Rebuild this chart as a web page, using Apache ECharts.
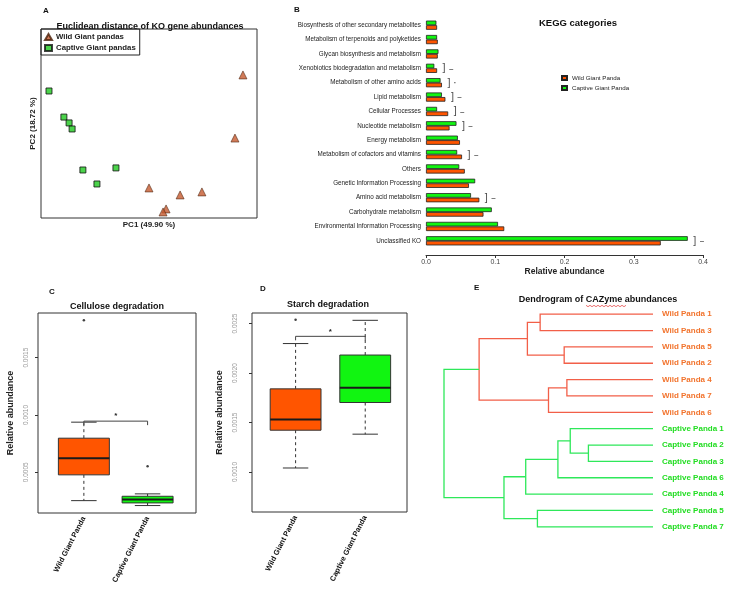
<!DOCTYPE html>
<html><head><meta charset="utf-8">
<script src="https://cdn.jsdelivr.net/npm/echarts@6/dist/echarts.min.js"></script>
<style>html,body{margin:0;padding:0;background:#fff}#c{width:732px;height:594px}</style>
</head><body><div id="c"></div>
<script>
// ---------- Panel A: PCA of KO gene abundances ----------
const pcaWildPC1 = [93.5, 89.8, 50.0, 64.4, 74.5, 57.9, 56.5];
const pcaWildPC2 = [75.7, 42.3, 15.9, 12.2, 13.8, 4.8, 3.2];
const pcaCaptivePC1 = [3.7, 10.6, 13.0, 14.4, 19.4, 25.9, 34.7];
const pcaCaptivePC2 = [67.2, 53.4, 50.3, 47.1, 25.4, 18.0, 26.5];

// ---------- Panel B: KEGG categories ----------
const keggCategories = [
  'Biosynthesis of other secondary metabolites',
  'Metabolism of terpenoids and polyketides',
  'Glycan biosynthesis and metabolism',
  'Xenobiotics biodegradation and metabolism',
  'Metabolism of other amino acids',
  'Lipid metabolism',
  'Cellular Processes',
  'Nucleotide metabolism',
  'Energy metabolism',
  'Metabolism of cofactors and vitamins',
  'Others',
  'Genetic Information Processing',
  'Amino acid metabolism',
  'Carbohydrate metabolism',
  'Environmental Information Processing',
  'Unclassified KO'
];
const keggWild =    [0.016, 0.017, 0.017, 0.016, 0.023, 0.028, 0.032, 0.034, 0.049, 0.052, 0.056, 0.062, 0.077, 0.083, 0.113, 0.339];
const keggCaptive = [0.015, 0.016, 0.018, 0.012, 0.021, 0.023, 0.016, 0.044, 0.046, 0.045, 0.048, 0.071, 0.065, 0.095, 0.104, 0.378];
const keggSig = ['', '', '', '–', '·', '–', '–', '–', '', '–', '', '', '–', '', '', '–'];

// ---------- Panel C / D: box plots ----------
const boxGroups = ['Wild Giant Panda', 'Captive Giant Panda'];
// [min, Q1, median, Q3, max]
const celluloseWild =    [0.000252, 0.000477, 0.000622, 0.000797, 0.000937];
const celluloseCaptive = [0.000209, 0.000232, 0.000261, 0.000290, 0.000311];
const celluloseOutliers = [[1, 0.001826], [2, 0.000552]];
const celluloseTicks = [0.0005, 0.0010, 0.0015];
const celluloseSig = [1, 2, 0.000946];

const starchWild =    [0.00104, 0.001422, 0.00153, 0.00184, 0.002298];
const starchCaptive = [0.001382, 0.001702, 0.00185, 0.002182, 0.002533];
const starchOutliers = [[1, 0.00254]];
const starchTicks = [0.0010, 0.0015, 0.0020, 0.0025];
const starchSig = [1, 2, 0.002371];

// ---------- Panel E: dendrogram of CAZyme abundances ----------
const dendroLeaves = ['Wild Panda 1', 'Wild Panda 3', 'Wild Panda 5', 'Wild Panda 2', 'Wild Panda 4', 'Wild Panda 7', 'Wild Panda 6',
  'Captive Panda 1', 'Captive Panda 2', 'Captive Panda 3', 'Captive Panda 6', 'Captive Panda 4', 'Captive Panda 5', 'Captive Panda 7'];
// hclust-style merges: negative = leaf (1-based), positive = earlier merge row (1-based); third = height
const dendroMerge = [
  [-1, -2, 0.540],
  [-3, -4, 0.425],
  [1, 2, 0.601],
  [-5, -6, 0.412],
  [4, -7, 0.500],
  [3, 5, 0.832],
  [-9, -10, 0.309],
  [-8, 7, 0.396],
  [8, -11, 0.455],
  [9, -12, 0.609],
  [-13, -14, 0.553],
  [10, 11, 0.713],
  [6, 12, 1.0]
];

// ---------- colours ----------
const ORANGE = '#FF5500';
const GREEN = '#11F511';
const FONT = '"Liberation Sans", Arial, sans-serif';

// dendrogram layout
const dPos = [], dWild = [];
const gPos = id => id < 0 ? (-id - 1) : dPos[id - 1];
const gH = id => id < 0 ? 0 : dendroMerge[id - 1][2];
const gWild = id => id < 0 ? dendroLeaves[-id - 1].startsWith('Wild') : dWild[id - 1];
const dendroSegs = dendroMerge.map(([a, b, h], i) => {
  dPos[i] = (gPos(a) + gPos(b)) / 2;
  dWild[i] = gWild(a) && gWild(b);
  return [h, gPos(a), gPos(b), gH(a), gH(b), dWild[i] ? 1 : 0];
});

function boxRender(widthUnits) {
  return function (params, api) {
    const x = api.value(0);
    const c = i => api.coord([x, api.value(i)]);
    const pLo = c(1), pQ1 = c(2), pMed = c(3), pQ3 = c(4), pHi = c(5);
    const w = api.size([widthUnits, 0])[0];
    const cx = pLo[0];
    const fill = params.dataIndex === 0 ? ORANGE : GREEN;
    const ls = { stroke: '#333', lineWidth: 1 };
    return { type: 'group', children: [
      { type: 'line', shape: { x1: cx, y1: pQ3[1], x2: cx, y2: pHi[1] }, style: Object.assign({ lineDash: [3, 3] }, ls) },
      { type: 'line', shape: { x1: cx, y1: pQ1[1], x2: cx, y2: pLo[1] }, style: Object.assign({ lineDash: [3, 3] }, ls) },
      { type: 'line', shape: { x1: cx - w / 4, y1: pHi[1], x2: cx + w / 4, y2: pHi[1] }, style: ls },
      { type: 'line', shape: { x1: cx - w / 4, y1: pLo[1], x2: cx + w / 4, y2: pLo[1] }, style: ls },
      { type: 'rect', shape: { x: cx - w / 2, y: pQ3[1], width: w, height: pQ1[1] - pQ3[1] }, style: { fill: fill, stroke: '#333', lineWidth: 1 } },
      { type: 'line', shape: { x1: cx - w / 2, y1: pMed[1], x2: cx + w / 2, y2: pMed[1] }, style: { stroke: '#1a1a1a', lineWidth: 2 } }
    ]};
  };
}
function sigRender(params, api) {
  const p1 = api.coord([api.value(0), api.value(2)]);
  const p2 = api.coord([api.value(1), api.value(2)]);
  return { type: 'group', children: [
    { type: 'polyline', shape: { points: [[p1[0], p1[1] + 4], p1, p2, [p2[0], p2[1] + 4]] }, style: { stroke: '#444', lineWidth: 1, fill: null } },
    { type: 'text', x: (p1[0] + p2[0]) / 2, y: p1[1] - 1, style: { text: '*', fill: '#222', align: 'center', verticalAlign: 'bottom', font: 'bold 8px ' + FONT } }
  ]};
}
function dendroRender(params, api) {
  const h = api.value(0), ya = api.value(1), yb = api.value(2), ha = api.value(3), hb = api.value(4);
  const col = api.value(5) === 1 ? '#F25F48' : '#2EE85A';
  const pts = [api.coord([ha, ya]), api.coord([h, ya]), api.coord([h, yb]), api.coord([hb, yb])];
  return { type: 'polyline', shape: { points: pts }, style: { stroke: col, lineWidth: 1.3, fill: null } };
}

const hiddenAxis = { axisLine: { show: false }, axisTick: { show: false }, axisLabel: { show: false }, splitLine: { show: false } };

// spell-check style wavy underline under "CAZyme" in the dendrogram title
const wavy = [];
for (let i = 0; i <= 20; i++) wavy.push([586 + i * 2, 305.5 + (i % 2 ? 1.2 : -0.2)]);

const chart = echarts.init(document.getElementById('c'), null, { renderer: 'canvas' });
const option = {
  animation: false,
  backgroundColor: '#fff',
  textStyle: { fontFamily: FONT },
  graphic: [
    { type: 'text', left: 43, top: 7, style: { text: 'A', font: 'bold 8px ' + FONT, fill: '#111' } },
    { type: 'text', x: 150, y: 27, style: { text: 'Euclidean distance of KO gene abundances', font: 'bold 9px ' + FONT, fill: '#111', align: 'center', verticalAlign: 'middle' } },
    { type: 'text', left: 294, top: 6, style: { text: 'B', font: 'bold 8px ' + FONT, fill: '#111' } },
    { type: 'text', x: 578, y: 23, style: { text: 'KEGG categories', font: 'bold 9.5px ' + FONT, fill: '#111', align: 'center', verticalAlign: 'middle' } },
    { type: 'text', left: 49, top: 288, style: { text: 'C', font: 'bold 8px ' + FONT, fill: '#111' } },
    { type: 'text', x: 117, y: 307, style: { text: 'Cellulose degradation', font: 'bold 9px ' + FONT, fill: '#111', align: 'center', verticalAlign: 'middle' } },
    { type: 'text', left: 260, top: 285, style: { text: 'D', font: 'bold 8px ' + FONT, fill: '#111' } },
    { type: 'text', x: 328, y: 305, style: { text: 'Starch degradation', font: 'bold 9px ' + FONT, fill: '#111', align: 'center', verticalAlign: 'middle' } },
    { type: 'text', left: 474, top: 284, style: { text: 'E', font: 'bold 8px ' + FONT, fill: '#111' } },
    { type: 'text', x: 598, y: 300, style: { text: 'Dendrogram of CAZyme abundances', font: 'bold 9px ' + FONT, fill: '#111', align: 'center', verticalAlign: 'middle' } },
    { type: 'polyline', shape: { points: wavy }, style: { stroke: '#E03030', lineWidth: 0.7, fill: null } }
  ],
  legend: [
    { data: [{ name: 'Wild Giant pandas', icon: 'triangle' }, { name: 'Captive Giant pandas', icon: 'rect' }],
      orient: 'vertical', left: 41, top: 29, itemWidth: 7, itemHeight: 6, itemGap: 3,
      padding: [4, 4, 3, 3], borderColor: '#222', borderWidth: 1, selectedMode: false,
      textStyle: { fontSize: 7.8, fontWeight: 'bold', color: '#222', fontFamily: FONT, padding: [0, 0, 0, -1] } },
    { data: [{ name: 'Wild Giant Panda', icon: 'rect' }, { name: 'Captive Giant Panda', icon: 'rect' }],
      orient: 'vertical', left: 556, top: 70, itemWidth: 5, itemHeight: 4, itemGap: 4, selectedMode: false,
      textStyle: { fontSize: 6.2, color: '#222', fontFamily: FONT } }
  ],
  grid: [
    { left: 41, top: 29, width: 216, height: 189, show: true, borderColor: '#333', borderWidth: 1, backgroundColor: 'transparent' },
    { left: 426, top: 18, width: 277, height: 230 },
    { left: 38, top: 313, width: 158, height: 200, show: true, borderColor: '#333', borderWidth: 1, backgroundColor: 'transparent' },
    { left: 252, top: 313, width: 155, height: 199, show: true, borderColor: '#333', borderWidth: 1, backgroundColor: 'transparent' },
    { left: 444, top: 306, width: 209, height: 229 }
  ],
  xAxis: [
    Object.assign({ gridIndex: 0, type: 'value', min: 0, max: 100, name: 'PC1 (49.90 %)', nameLocation: 'middle', nameGap: 3,
      nameTextStyle: { fontSize: 8, fontWeight: 'bold', color: '#222', verticalAlign: 'top' } }, hiddenAxis),
    { gridIndex: 1, type: 'value', min: 0, max: 0.4, interval: 0.1, offset: 7,
      axisLine: { show: true, lineStyle: { color: '#333', width: 1 } }, axisTick: { show: true, length: 3, lineStyle: { color: '#333' } },
      axisLabel: { fontSize: 7, color: '#444', margin: 4, formatter: v => v.toFixed(1) }, splitLine: { show: false },
      name: 'Relative abundance', nameLocation: 'middle', nameGap: 12, nameTextStyle: { fontSize: 8.5, fontWeight: 'bold', color: '#222', verticalAlign: 'top' } },
    { gridIndex: 2, type: 'value', min: 0.28, max: 2.76, axisLine: { show: false }, axisTick: { show: false }, splitLine: { show: false },
      axisLabel: { customValues: [1, 2], formatter: v => boxGroups[Math.round(v) - 1], rotate: 63, margin: 4, fontSize: 7.5, fontWeight: 'bold', color: '#111' } },
    { gridIndex: 3, type: 'value', min: 0.374, max: 2.6, axisLine: { show: false }, axisTick: { show: false }, splitLine: { show: false },
      axisLabel: { customValues: [1, 2], formatter: v => boxGroups[Math.round(v) - 1], rotate: 63, margin: 4, fontSize: 7.5, fontWeight: 'bold', color: '#111' } },
    Object.assign({ gridIndex: 4, type: 'value', min: 0, max: 1, inverse: true }, hiddenAxis)
  ],
  yAxis: [
    Object.assign({ gridIndex: 0, type: 'value', min: 0, max: 100, name: 'PC2 (18.72 %)', nameLocation: 'middle', nameGap: 4,
      nameTextStyle: { fontSize: 8, fontWeight: 'bold', color: '#222' } }, hiddenAxis),
    { gridIndex: 1, type: 'category', data: keggCategories, inverse: true, axisLine: { show: false }, axisTick: { show: false },
      axisLabel: { fontSize: 6.3, color: '#222', margin: 5, interval: 0 } },
    { gridIndex: 2, type: 'value', min: 0.000144, max: 0.00189, axisLine: { show: false }, splitLine: { show: false },
      axisTick: { show: true, customValues: celluloseTicks, length: 3, lineStyle: { color: '#333' } },
      axisLabel: { customValues: celluloseTicks, rotate: 90, margin: 8, fontSize: 6.5, color: '#999', formatter: v => v.toFixed(4) },
      name: 'Relative abundance', nameLocation: 'middle', nameGap: 23, nameTextStyle: { fontSize: 9, fontWeight: 'bold', color: '#222' } },
    { gridIndex: 3, type: 'value', min: 0.000595, max: 0.002607, axisLine: { show: false }, splitLine: { show: false },
      axisTick: { show: true, customValues: starchTicks, length: 3, lineStyle: { color: '#333' } },
      axisLabel: { customValues: starchTicks, rotate: 90, margin: 13, fontSize: 6.5, color: '#999', formatter: v => v.toFixed(4) },
      name: 'Relative abundance', nameLocation: 'middle', nameGap: 28, nameTextStyle: { fontSize: 9, fontWeight: 'bold', color: '#222' } },
    Object.assign({ gridIndex: 4, type: 'value', min: -0.5, max: dendroLeaves.length - 0.5, inverse: true }, hiddenAxis),
    { gridIndex: 4, type: 'category', data: dendroLeaves, inverse: true, position: 'right', axisLine: { show: false }, axisTick: { show: false },
      axisLabel: { interval: 0, margin: 9, fontSize: 8, fontWeight: 'bold', color: (v) => v.startsWith('Wild') ? '#F2742E' : '#22DD22' } }
  ],
  series: [
    { name: 'Wild Giant pandas', type: 'scatter', xAxisIndex: 0, yAxisIndex: 0, symbol: 'triangle', symbolSize: 8,
      itemStyle: { color: '#C65A30', borderColor: '#4a200a', borderWidth: 0.7 },
      data: pcaWildPC1.map((v, i) => [v, pcaWildPC2[i]]) },
    { name: 'Captive Giant pandas', type: 'scatter', xAxisIndex: 0, yAxisIndex: 0, symbol: 'rect', symbolSize: 6,
      itemStyle: { color: '#1EC81E', borderColor: '#111', borderWidth: 1 },
      data: pcaCaptivePC1.map((v, i) => [v, pcaCaptivePC2[i]]) },
    { name: 'Captive Giant Panda', type: 'bar', xAxisIndex: 1, yAxisIndex: 1, barWidth: 4.6, barGap: '0%',
      itemStyle: { color: GREEN, borderColor: '#222', borderWidth: 0.8 }, data: keggCaptive },
    { name: 'Wild Giant Panda', type: 'bar', xAxisIndex: 1, yAxisIndex: 1, barWidth: 4.6, barGap: '0%',
      itemStyle: { color: ORANGE, borderColor: '#222', borderWidth: 0.8 }, data: keggWild },
    { name: 'sig', type: 'scatter', xAxisIndex: 1, yAxisIndex: 1, symbolSize: 1, itemStyle: { color: 'rgba(0,0,0,0)' },
      label: { show: true, position: 'right', distance: 5, formatter: p => '{b|]} {d|' + keggSig[p.dataIndex] + '}',
        rich: { b: { fontSize: 11, color: '#222' }, d: { fontSize: 8, color: '#222', fontWeight: 'bold' } } },
      data: keggCategories.map((c, i) => keggSig[i] ? { value: [Math.max(keggWild[i], keggCaptive[i]), i], name: c } : { value: [null, i] }) },
    { type: 'custom', xAxisIndex: 2, yAxisIndex: 2, renderItem: boxRender(0.8), encode: { x: 0, y: [1, 2, 3, 4, 5] },
      data: [[1].concat(celluloseWild), [2].concat(celluloseCaptive)] },
    { type: 'scatter', xAxisIndex: 2, yAxisIndex: 2, symbolSize: 2.5, itemStyle: { color: '#111' }, data: celluloseOutliers },
    { type: 'custom', xAxisIndex: 2, yAxisIndex: 2, renderItem: sigRender, encode: { x: [0, 1], y: 2 }, data: [celluloseSig] },
    { type: 'custom', xAxisIndex: 3, yAxisIndex: 3, renderItem: boxRender(0.73), encode: { x: 0, y: [1, 2, 3, 4, 5] },
      data: [[1].concat(starchWild), [2].concat(starchCaptive)] },
    { type: 'scatter', xAxisIndex: 3, yAxisIndex: 3, symbolSize: 2.5, itemStyle: { color: '#111' }, data: starchOutliers },
    { type: 'custom', xAxisIndex: 3, yAxisIndex: 3, renderItem: sigRender, encode: { x: [0, 1], y: 2 }, data: [starchSig] },
    { type: 'custom', xAxisIndex: 4, yAxisIndex: 4, renderItem: dendroRender, encode: { x: [0, 3, 4], y: [1, 2] }, data: dendroSegs }
  ]
};
chart.setOption(option);
</script></body></html>
